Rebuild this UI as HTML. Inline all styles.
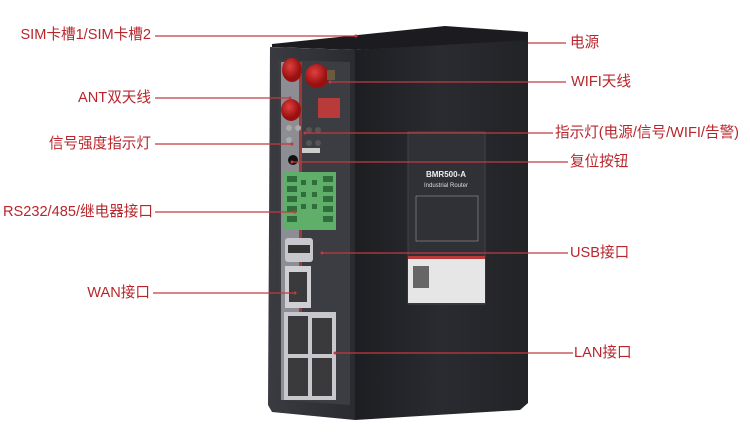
<!DOCTYPE html>
<html><head><meta charset="utf-8"><style>
html,body{margin:0;padding:0;background:#fff;}
body{width:750px;height:436px;position:relative;overflow:hidden;font-family:"Liberation Sans","Noto Sans CJK SC",sans-serif;}
.l{position:absolute;color:#b8262c;font-size:14.6px;line-height:16px;white-space:nowrap;}
.r{text-align:right;}
</style></head><body>
<svg width="750" height="436" style="position:absolute;left:0;top:0">
<defs>
<linearGradient id="side" x1="0" x2="1"><stop offset="0" stop-color="#1d1e22"/><stop offset="0.5" stop-color="#2a2b30"/><stop offset="1" stop-color="#222327"/></linearGradient>
<linearGradient id="front" x1="0" x2="1"><stop offset="0" stop-color="#3a3b40"/><stop offset="1" stop-color="#2a2b30"/></linearGradient>
<radialGradient id="cap" cx="0.4" cy="0.35"><stop offset="0" stop-color="#e04040"/><stop offset="1" stop-color="#9a1010"/></radialGradient>
</defs>
<polygon points="355,50 528,38 528,403 520,410 355,420" fill="url(#side)"/>
<polygon points="272,44 445,26 528,32 528,40 355,50 272,47" fill="#1c1c20"/>
<polygon points="270,47 355,50 355,420 272,412 268,405" fill="url(#front)"/>
<polygon points="278,60 350,62 350,405 280,400" fill="#3c3d42"/>
<rect x="281" y="62" width="18" height="338" fill="#8c8e93"/>
<rect x="299" y="62" width="3" height="338" fill="#9a3a3a"/>
<ellipse cx="292" cy="70" rx="10" ry="12" fill="url(#cap)"/>
<ellipse cx="317" cy="76" rx="12" ry="12" fill="url(#cap)"/>
<rect x="327" y="70" width="8" height="10" fill="#6a5a40"/>
<ellipse cx="291" cy="110" rx="10" ry="11" fill="url(#cap)"/>
<rect x="318" y="98" width="22" height="20" fill="#b83a3a"/>
<circle cx="289" cy="128" r="3" fill="#aaa"/><circle cx="298" cy="128" r="3" fill="#aaa"/>
<circle cx="309" cy="130" r="3" fill="#555"/><circle cx="318" cy="130" r="3" fill="#555"/>
<circle cx="289" cy="140" r="3" fill="#aaa"/><circle cx="309" cy="143" r="3" fill="#555"/><circle cx="318" cy="143" r="3" fill="#555"/>
<rect x="302" y="148" width="18" height="5" fill="#ccc"/>
<circle cx="293" cy="160" r="5" fill="#111"/>
<rect x="284" y="172" width="52" height="58" fill="#5fae6a"/>
<g fill="#2f6e3a"><rect x="287" y="176" width="10" height="6"/><rect x="287" y="186" width="10" height="6"/><rect x="287" y="196" width="10" height="6"/><rect x="287" y="206" width="10" height="6"/><rect x="287" y="216" width="10" height="6"/>
<rect x="323" y="176" width="10" height="6"/><rect x="323" y="186" width="10" height="6"/><rect x="323" y="196" width="10" height="6"/><rect x="323" y="206" width="10" height="6"/><rect x="323" y="216" width="10" height="6"/>
<rect x="301" y="180" width="5" height="5"/><rect x="312" y="180" width="5" height="5"/><rect x="301" y="192" width="5" height="5"/><rect x="312" y="192" width="5" height="5"/><rect x="301" y="204" width="5" height="5"/><rect x="312" y="204" width="5" height="5"/></g>
<rect x="285" y="238" width="28" height="24" rx="3" fill="#c8c8cc"/><rect x="288" y="245" width="22" height="8" fill="#333"/>
<rect x="285" y="266" width="26" height="42" fill="#d0d0d4"/><rect x="289" y="272" width="18" height="30" fill="#3a3a3c"/>
<rect x="284" y="312" width="52" height="88" fill="#c8c8cc"/>
<rect x="288" y="316" width="20" height="38" fill="#3a3a3c"/><rect x="312" y="318" width="20" height="36" fill="#3a3a3c"/>
<rect x="288" y="358" width="20" height="38" fill="#3a3a3c"/><rect x="312" y="358" width="20" height="38" fill="#3a3a3c"/>
<rect x="408" y="132" width="77" height="172" fill="#303136" stroke="#444" stroke-width="1"/>
<text x="446" y="177" fill="#eee" font-size="8" font-weight="bold" text-anchor="middle" font-family="Liberation Sans">BMR500-A</text>
<text x="446" y="187" fill="#ddd" font-size="6" text-anchor="middle" font-family="Liberation Sans">Industrial Router</text>
<rect x="416" y="196" width="62" height="45" fill="none" stroke="#999" stroke-width="0.6"/>
<rect x="408" y="256" width="77" height="3" fill="#b83a3a"/>
<rect x="408" y="259" width="77" height="44" fill="#e6e6e6"/>
<rect x="413" y="266" width="16" height="22" fill="#666"/>
<g stroke="#c23a3f" stroke-width="1.2">
<line x1="155" y1="36" x2="356" y2="36"/>
<line x1="155" y1="98" x2="290" y2="98"/>
<line x1="155" y1="144" x2="292" y2="144"/>
<line x1="155" y1="212" x2="295" y2="212"/>
<line x1="153" y1="293" x2="295" y2="293"/>
<line x1="528" y1="43" x2="566" y2="43"/>
<line x1="330" y1="82" x2="566" y2="82"/>
<line x1="305" y1="133" x2="553" y2="133"/>
<line x1="292" y1="162" x2="568" y2="162"/>
<line x1="322" y1="253" x2="568" y2="253"/>
<line x1="335" y1="353" x2="573" y2="353"/>
</g>
<g fill="#c23a3f"><circle cx="356" cy="36" r="1.5"/><circle cx="290" cy="98" r="1.5"/><circle cx="292" cy="144" r="1.5"/><circle cx="295" cy="212" r="1.5"/><circle cx="295" cy="293" r="1.5"/><circle cx="330" cy="82" r="1.5"/><circle cx="305" cy="133" r="1.5"/><circle cx="292" cy="162" r="1.5"/><circle cx="322" cy="253" r="1.5"/><circle cx="335" cy="353" r="1.5"/></g>
</svg>
<div class="l r" style="right:599px;top:27px">SIM卡槽1/SIM卡槽2</div>
<div class="l r" style="right:599px;top:90px">ANT双天线</div>
<div class="l r" style="right:599px;top:136px">信号强度指示灯</div>
<div class="l r" style="right:597px;top:204px">RS232/485/继电器接口</div>
<div class="l r" style="right:600px;top:285px">WAN接口</div>
<div class="l" style="left:570px;top:35px">电源</div>
<div class="l" style="left:571px;top:74px">WIFI天线</div>
<div class="l" style="left:555px;top:125px">指示灯(电源/信号/WIFI/告警)</div>
<div class="l" style="left:570px;top:154px">复位按钮</div>
<div class="l" style="left:570px;top:245px">USB接口</div>
<div class="l" style="left:574px;top:345px">LAN接口</div>
</body></html>
